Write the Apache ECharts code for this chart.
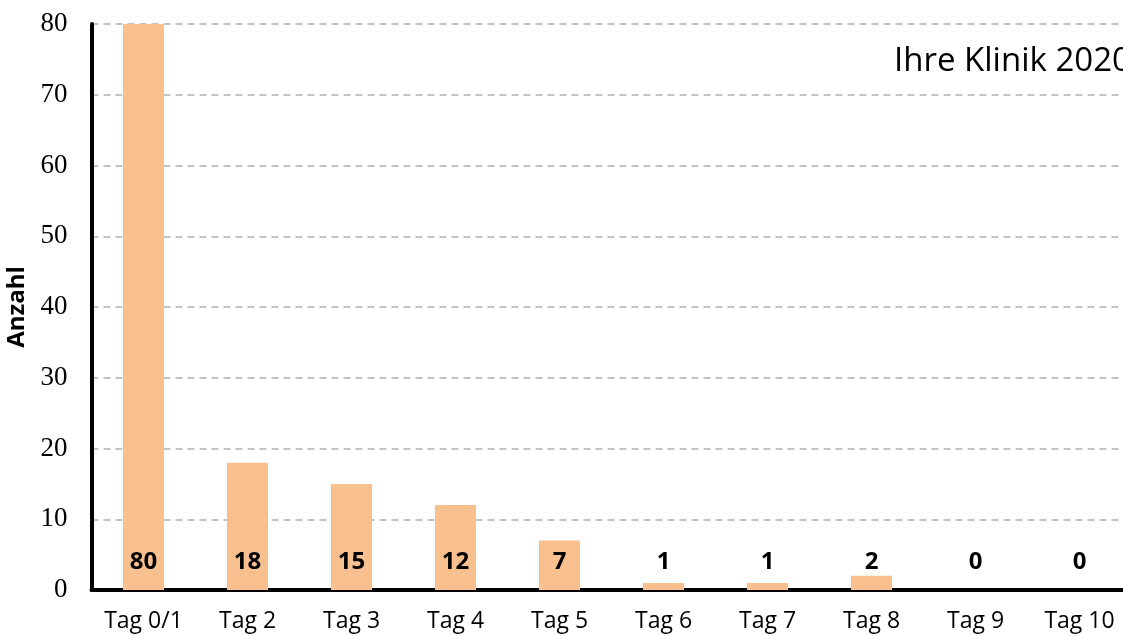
<!DOCTYPE html>
<html>
<head>
<meta charset="utf-8">
<script src="https://cdn.jsdelivr.net/npm/echarts@6/dist/echarts.min.js"></script>
<style>
  html, body { margin: 0; padding: 0; background: #fff; }
  #chart { width: 1123px; height: 637px; }
</style>
</head>
<body>
<div id="chart"></div>
<script>
// Tage und Anzahl
const categories = ['Tag 0/1', 'Tag 2', 'Tag 3', 'Tag 4', 'Tag 5', 'Tag 6', 'Tag 7', 'Tag 8', 'Tag 9', 'Tag 10'];
const counts = [80, 18, 15, 12, 7, 1, 1, 2, 0, 0];
const yTicks = [0, 10, 20, 30, 40, 50, 60, 70, 80];

function initChart(dom){
    let chartDom = document.getElementById(dom);
    let chartInstance = echarts.getInstanceByDom(chartDom);
    if(chartInstance){
        return chartInstance;
    }
    return echarts.init(chartDom);
}

let myChart = initChart('chart');
let option = {
    animation: false,
    grid: { left: 91.5, right: -8.5, top: 24, bottom: 47, containLabel: false, outerBoundsMode: 'none' },
    graphic: [{
        type: 'text',
        x: 894,
        y: 62,
        style: { text: 'Ihre Klinik 2020', font: '33px "Open Sans"', fill: '#000', verticalAlign: 'middle' }
    }],
    xAxis: {
        type: 'category',
        data: categories,
        axisLine: { lineStyle: { color: '#000', width: 4 } },
        axisTick: { show: false },
        axisLabel: { interval: 0, color: '#000', fontSize: 23, fontFamily: 'Open Sans', margin: 20 }
    },
    yAxis: {
        type: 'value',
        min: yTicks[0],
        max: yTicks[yTicks.length - 1],
        interval: 10,
        name: 'Anzahl',
        nameLocation: 'middle',
        nameGap: 57,
        nameTextStyle: { color: '#000', fontSize: 24, fontWeight: 'bold', fontFamily: 'Open Sans' },
        axisLine: { show: true, lineStyle: { color: '#000', width: 4 } },
        axisTick: { show: false },
        axisLabel: { color: '#000', fontSize: 27, fontFamily: 'Liberation Serif', margin: 24 },
        splitLine: { lineStyle: { color: '#c4c4c4', width: 2, type: [7, 5] } }
    },
    series: [{
        type: 'bar',
        data: counts,
        barWidth: 41,
        itemStyle: { color: '#F9C08F' },
        label: {
            show: true,
            position: 'insideBottom',
            distance: 16,
            color: '#000',
            fontSize: 24,
            fontWeight: 'bold',
            fontFamily: 'Open Sans'
        }
    }]
};
myChart.setOption(option);
</script>
</body>
</html>
